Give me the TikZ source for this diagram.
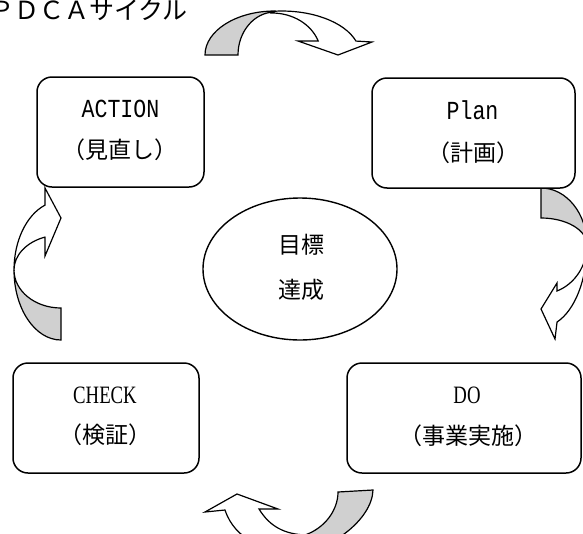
\documentclass[tikz,border=0pt]{standalone}
\usepackage{fontspec}
\usepackage{graphicx}
\usetikzlibrary{shapes.geometric}
\newfontfamily\jpfont{Noto Sans CJK JP}
\newfontfamily\monolat{Liberation Mono}
\newfontfamily\romlat{Liberation Serif}
\definecolor{arrowgray}{RGB}{208,208,208}
\tikzset{
  phasebox/.style={draw, line width=1.5pt, rounded corners=15pt, inner sep=0pt, fill=white},
  goalshape/.style={draw, ellipse, line width=1.4pt, inner sep=0pt, fill=white},
  jptext/.style={font=\jpfont\fontsize{23}{27}\selectfont, inner sep=0pt},
  titletext/.style={font=\jpfont\fontsize{25}{30}\selectfont, inner sep=0pt},
  monotext/.style={font=\monolat\fontsize{26}{30}\selectfont, inner sep=0pt},
  romtext/.style={font=\romlat\fontsize{25}{30}\selectfont, inner sep=0pt},
  backpart/.style={draw, line width=1.2pt, fill=arrowgray, line join=miter},
  frontpart/.style={draw, line width=1.2pt, fill=white, line join=miter},
}
\begin{document}
\begin{tikzpicture}[x=1pt, y=-1pt]
\useasboundingbox (0,0) rectangle (583,533);
\begin{scope}
\clip (0,0) rectangle (583,533);

% title
\node[titletext, anchor=west] (title) at (-11,10) {ＰＤＣＡサイクル};

% top curved arrow
\path[backpart] (205,55) arc[start angle=180, end angle=270, x radius=70, y radius=44]
  -- (275,12) arc[start angle=270, end angle=180, x radius=37, y radius=43] -- cycle;
\path[frontpart] (275.2,11.2) arc[start angle=265, end angle=341.5, x radius=78, y radius=44]
  -- (372,42) -- (338,55) -- (298,41) -- (318.2,41)
  arc[start angle=340.5, end angle=270, x radius=49, y radius=42] -- cycle;

% right curved arrow
\path[backpart] (541,188) arc[start angle=270, end angle=360, x radius=46, y radius=57]
  arc[start angle=0, end angle=-90, x radius=46, y radius=27] -- cycle;
\path[frontpart] (587,245) arc[start angle=0, end angle=69.6, x radius=46, y radius=82.2]
  -- (555,339) -- (541,309) -- (557,283) -- (557,291)
  arc[start angle=69.6, end angle=0, x radius=46, y radius=49.1] -- cycle;

% bottom curved arrow
\path[backpart] (338,492) -- (373,490) .. controls (372,520) and (330,550) .. (300,552)
  -- (305,535) .. controls (325,528) and (338,510) .. (338,492) -- cycle;
\path[frontpart] (225,510) -- (205,512) -- (237,494) -- (278,509) -- (259,509)
  .. controls (270,527) and (285,534) .. (305,535) -- (300,552)
  .. controls (265,552) and (235,540) .. (225,510) -- cycle;

% left curved arrow
\path[backpart] (14,270) arc[start angle=180, end angle=90, x radius=47, y radius=70]
  -- (61,308) arc[start angle=90, end angle=180, x radius=47, y radius=38] -- cycle;
\path[frontpart] (14,270) arc[start angle=180, end angle=250, x radius=47, y radius=69]
  -- (45,188) -- (61,218) -- (45,256) -- (44.9,237.1)
  arc[start angle=250, end angle=180, x radius=47, y radius=35] -- cycle;

% boxes
\node[phasebox, minimum width=167pt, minimum height=110pt] (action) at (120.5,132) {};
\node[phasebox, minimum width=203pt, minimum height=110pt] (plan) at (473.5,133) {};
\node[phasebox, minimum width=186pt, minimum height=110pt] (check) at (106,418) {};
\node[phasebox, minimum width=234pt, minimum height=110pt] (do) at (464,418) {};
\node[goalshape, minimum width=194pt, minimum height=142pt] (goal) at (300,269) {};

% texts
\node[monotext] (actionen) at (120.5,109) {\scalebox{0.83}[1]{ACTION}};
\node[jptext] (actionjp) at (120,150) {（見直し）};
\node[monotext] (planen) at (472.5,110) {\scalebox{0.83}[1]{Plan}};
\node[jptext] (planjp) at (473,153) {（計画）};
\node[romtext] (checken) at (105,395) {\scalebox{0.75}[1]{CHECK}};
\node[jptext] (checkjp) at (105,435) {（検証）};
\node[romtext] (doen) at (467,395) {\scalebox{0.75}[1]{DO}};
\node[jptext] (dojp) at (468,436) {（事業実施）};
\node[jptext] (goal1) at (301,245) {目標};
\node[jptext] (goal2) at (301,290) {達成};
\end{scope}
\end{tikzpicture}
\end{document}
